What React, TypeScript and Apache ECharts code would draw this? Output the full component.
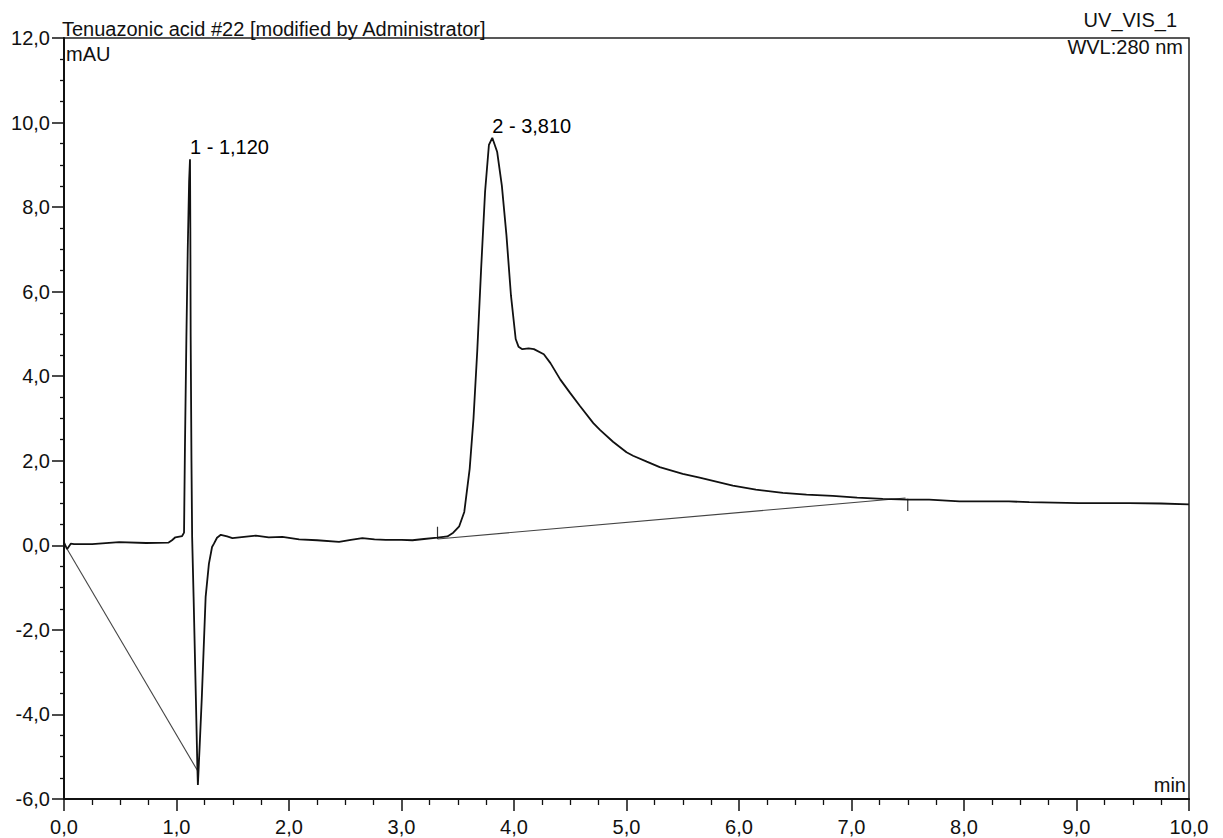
import React, { useEffect, useRef } from "react";
import * as echarts from "echarts";

// Chromatogram trace (retention time in min, absorbance in mAU)
const traceTime = [
  0.0, 0.027, 0.06, 0.089, 0.25, 0.49, 0.73, 0.93, 0.96, 0.99, 1.05, 1.067,
  1.075, 1.088, 1.1, 1.112, 1.12, 1.123, 1.126, 1.133, 1.139, 1.152, 1.172,
  1.185, 1.19, 1.205, 1.225, 1.259, 1.288, 1.316, 1.333, 1.36, 1.394, 1.45,
  1.497, 1.6, 1.705, 1.82, 1.941, 2.09, 2.25, 2.445, 2.55, 2.652, 2.76, 2.86,
  3.0, 3.097, 3.2, 3.319, 3.408, 3.46, 3.513, 3.558, 3.606, 3.64, 3.673, 3.708,
  3.743, 3.777, 3.807, 3.85, 3.892, 3.933, 3.973, 4.015, 4.04, 4.074, 4.13,
  4.177, 4.265, 4.324, 4.412, 4.5, 4.588, 4.705, 4.764, 4.88, 5.0, 5.058, 5.18,
  5.295, 5.5, 5.65, 5.945, 6.15, 6.39, 6.6, 6.833, 7.05, 7.278, 7.5, 7.69,
  7.96, 8.137, 8.4, 8.58, 8.8, 9.02, 9.25, 9.47, 9.75, 10.0,
];
const traceSignal = [
  0.07, -0.09, 0.04, 0.03, 0.03, 0.075, 0.055, 0.065, 0.12, 0.19, 0.22, 0.3,
  2.3, 4.94, 7.0, 8.6, 9.13, 7.5, 4.94, 2.0, 0.2, -1.22, -3.59,
  -5.2, -5.67, -4.8, -3.6, -1.22, -0.44, -0.04, 0.04, 0.18, 0.25, 0.21,
  0.17, 0.2, 0.23, 0.19, 0.2, 0.14, 0.12, 0.08, 0.13, 0.17, 0.14, 0.13,
  0.13, 0.12, 0.15, 0.18, 0.21, 0.3, 0.45, 0.79, 1.81, 3.0, 4.58, 6.55,
  8.37, 9.47, 9.64, 9.31, 8.51, 7.33, 5.91, 4.88, 4.7, 4.64, 4.66,
  4.64, 4.52, 4.31, 3.92, 3.6, 3.29, 2.89, 2.73, 2.45, 2.2, 2.12, 1.98,
  1.85, 1.69, 1.6, 1.41, 1.32, 1.24, 1.2, 1.17, 1.13, 1.1, 1.08, 1.08,
  1.04, 1.04, 1.04, 1.02, 1.01, 1.0, 1.0, 1.0, 0.99, 0.97,
];

// Integration baselines and peak delimiters
const baseline1Time = [0.03, 1.185];
const baseline1Signal = [-0.1, -5.32];
const baseline2Time = [3.32, 7.48];
const baseline2Signal = [0.15, 1.12];
const delimiterTime = [3.32, 7.5];
const delimiterFrom = [0.15, 1.1];
const delimiterTo = [0.44, 0.81];

// Peak annotations
const peakLabels = ["1 - 1,120", "2 - 3,810"];
const peakTime = [1.12, 3.807];
const peakHeight = [9.13, 9.64];

const chartTitle = "Tenuazonic acid #22 [modified by Administrator]";
const channelName = "UV_VIS_1";
const wavelengthText = "WVL:280 nm";
const yUnit = "mAU";
const xUnit = "min";

const FONT = "'Liberation Sans', Arial, sans-serif";

const fmt = (v: number) => v.toFixed(1).replace(".", ",");

export default function App() {
  const ref = useRef<HTMLDivElement>(null);

  useEffect(() => {
    if (!ref.current) return;
    const chart = echarts.init(ref.current, null, { renderer: "svg" });

    const trace = traceTime.map((t, i) => [t, traceSignal[i]]);
    const base1 = baseline1Time.map((t, i) => [t, baseline1Signal[i]]);
    const base2 = baseline2Time.map((t, i) => [t, baseline2Signal[i]]);
    const peaks = peakTime.map((t, i) => [t, peakHeight[i]]);

    const delimiterSeries = delimiterTime.map((t, i) => ({
      type: "line",
      data: [
        [t, delimiterFrom[i]],
        [t, delimiterTo[i]],
      ],
      showSymbol: false,
      silent: true,
      lineStyle: { color: "#333", width: 1.2 },
      z: 3,
    }));

    const textStyle = (extra: any) => ({
      fontSize: 20,
      fontFamily: FONT,
      fill: "#111",
      ...extra,
    });

    chart.setOption({
      animation: false,
      backgroundColor: "#fff",
      grid: {
        left: 64,
        right: 34,
        top: 38,
        bottom: 39,
        show: true,
        borderColor: "#222",
        borderWidth: 1.5,
        containLabel: false,
      },
      xAxis: {
        type: "value",
        min: 0,
        max: 10,
        interval: 1,
        axisLine: { show: true, onZero: false, lineStyle: { color: "#111", width: 2 } },
        axisTick: { show: true, length: 12, lineStyle: { color: "#111", width: 1.5 } },
        minorTick: { show: true, splitNumber: 4, length: 6, lineStyle: { color: "#111", width: 1.3 } },
        splitLine: { show: false },
        axisLabel: {
          formatter: (v: number) => fmt(v),
          fontSize: 20,
          fontFamily: FONT,
          color: "#111",
          margin: 18,
        },
      },
      yAxis: {
        type: "value",
        min: -6,
        max: 12,
        interval: 2,
        axisLine: { show: true, onZero: false, lineStyle: { color: "#111", width: 2 } },
        axisTick: { show: true, length: 12, lineStyle: { color: "#111", width: 1.5 } },
        minorTick: { show: true, splitNumber: 4, length: 4, lineStyle: { color: "#111", width: 1.3 } },
        splitLine: { show: false },
        axisLabel: {
          formatter: (v: number) => fmt(v),
          fontSize: 20,
          fontFamily: FONT,
          color: "#111",
          margin: 14,
        },
      },
      series: [
        {
          type: "line",
          name: "trace",
          data: trace,
          showSymbol: false,
          silent: true,
          lineStyle: { color: "#111", width: 1.8 },
          z: 4,
        },
        {
          type: "line",
          name: "baseline1",
          data: base1,
          showSymbol: false,
          silent: true,
          lineStyle: { color: "#444", width: 1.1 },
          z: 3,
        },
        {
          type: "line",
          name: "baseline2",
          data: base2,
          showSymbol: false,
          silent: true,
          lineStyle: { color: "#444", width: 1.1 },
          z: 3,
        },
        ...delimiterSeries,
        {
          type: "scatter",
          name: "peaks",
          data: peaks,
          symbolSize: 0,
          silent: true,
          itemStyle: { color: "#000", opacity: 1 },
          label: {
            show: true,
            position: "top",
            align: "left",
            distance: 2,
            formatter: (p: any) => peakLabels[p.dataIndex],
            fontSize: 20,
            fontFamily: FONT,
            color: "#000",
            opacity: 1,
          },
          z: 5,
        },
      ],
      graphic: [
        {
          type: "text",
          x: 62,
          y: 29,
          style: textStyle({ text: chartTitle, align: "left", verticalAlign: "middle" }),
        },
        {
          type: "text",
          x: 1177,
          y: 20,
          style: textStyle({ text: channelName, align: "right", verticalAlign: "middle" }),
        },
        {
          type: "text",
          x: 1183,
          y: 47,
          style: textStyle({ text: wavelengthText, align: "right", verticalAlign: "middle" }),
        },
        {
          type: "text",
          x: 66,
          y: 54,
          style: textStyle({ text: yUnit, align: "left", verticalAlign: "middle" }),
        },
        {
          type: "text",
          x: 1186,
          y: 785,
          style: textStyle({ text: xUnit, align: "right", verticalAlign: "middle" }),
        },
      ],
    });

    return () => chart.dispose();
  }, []);

  return (
    <div
      ref={ref}
      style={{ position: "fixed", left: 0, top: 0, width: 1223, height: 838, background: "#fff" }}
    />
  );
}
